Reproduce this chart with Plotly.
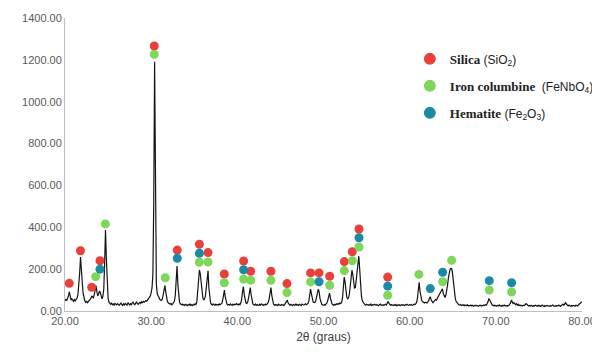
import plotly.graph_objects as go

# Diffractogram: intensity sampled every 0.1 degree from 20.0 to 80.0 (2-theta)
two_theta_start = 20.0
two_theta_step = 0.1
intensity = [
    48, 55, 50, 58, 72, 92, 68, 52, 58, 50,          # 20
    46, 54, 48, 56, 62, 78, 115, 180, 258, 215,      # 21
    140, 85, 58, 48, 42, 46, 40, 44, 50, 56,         # 22
    60, 72, 66, 62, 80, 105, 122, 92, 72, 80,        # 23
    96, 88, 66, 58, 70, 105, 230, 387, 250, 120,     # 24
    62, 42, 36, 32, 38, 30, 34, 28, 36, 31,          # 25
    29, 35, 30, 27, 33, 38, 30, 26, 34, 29,          # 26
    36, 31, 28, 40, 33, 29, 35, 30, 38, 42,          # 27
    34, 30, 37, 44, 35, 32, 38, 41, 36, 44,          # 28
    40, 46, 42, 48, 50, 47, 55, 58, 64, 72,          # 29
    88, 110, 175, 520, 1191, 420, 130, 82, 70, 62,   # 30
    56, 52, 50, 58, 75, 105, 122, 88, 58, 44,        # 31
    38, 35, 32, 36, 30, 34, 40, 46, 75, 150,         # 32
    215, 125, 60, 40, 34, 30, 33, 28, 31, 27,        # 33
    32, 29, 26, 31, 28, 33, 27, 30, 26, 32,          # 34
    29, 34, 31, 45, 90, 160, 196, 178, 140, 95,      # 35
    62, 52, 58, 72, 110, 170, 192, 110, 55, 38,      # 36
    32, 28, 34, 30, 27, 33, 29, 31, 28, 34,          # 37
    30, 33, 36, 52, 82, 100, 68, 40, 33, 29,         # 38
    31, 28, 34, 30, 27, 33, 29, 32, 30, 35,          # 39
    31, 29, 34, 30, 38, 55, 92, 117, 78, 45,         # 40
    38, 36, 42, 62, 95, 112, 78, 45, 34, 30,         # 41
    28, 33, 27, 31, 29, 26, 32, 28, 34, 30,          # 42
    27, 31, 29, 33, 30, 36, 42, 60, 95, 112,         # 43
    75, 42, 32, 28, 31, 27, 30, 26, 33, 29,          # 44
    27, 31, 28, 30, 26, 32, 38, 46, 52, 38,          # 45
    30, 27, 32, 28, 26, 31, 29, 27, 33, 28,          # 46
    30, 27, 32, 29, 26, 33, 30, 28, 31, 34,          # 47
    30, 33, 36, 48, 80, 105, 82, 52, 42, 40,         # 48
    42, 48, 62, 88, 104, 90, 58, 38, 32, 29,         # 49
    27, 31, 28, 34, 38, 52, 74, 85, 62, 40,          # 50
    33, 30, 27, 32, 29, 34, 31, 36, 33, 38,          # 51
    36, 42, 60, 110, 162, 140, 92, 66, 58, 62,       # 52
    80, 120, 168, 195, 175, 130, 108, 112, 150, 215, # 53
    250, 262, 200, 120, 72, 50, 40, 35, 31, 28,      # 54
    32, 29, 27, 31, 28, 33, 26, 30, 28, 32,          # 55
    29, 27, 31, 28, 25, 30, 33, 27, 29, 26,          # 56
    30, 28, 32, 29, 38, 46, 36, 30, 27, 31,          # 57
    28, 26, 30, 27, 31, 25, 29, 27, 30, 26,          # 58
    28, 31, 27, 29, 26, 30, 28, 32, 29, 27,          # 59
    30, 28, 31, 27, 29, 32, 30, 34, 40, 60,          # 60
    110, 137, 95, 62, 50, 45, 42, 38, 42, 40,        # 61
    38, 42, 48, 62, 68, 52, 42, 40, 45, 50,          # 62
    55, 52, 60, 68, 75, 82, 92, 100, 106, 85,        # 63
    70, 65, 75, 95, 125, 160, 185, 200, 204, 200,    # 64
    170, 125, 82, 58, 45, 38, 33, 30, 28, 31,        # 65
    27, 29, 26, 30, 25, 28, 26, 29, 24, 27,          # 66
    25, 28, 24, 27, 23, 26, 28, 24, 27, 25,          # 67
    23, 26, 28, 24, 27, 25, 29, 26, 30, 28,          # 68
    34, 45, 60, 52, 38, 30, 27, 25, 28, 24,          # 69
    26, 23, 27, 25, 29, 24, 26, 22, 27, 25,          # 70
    28, 24, 26, 23, 27, 25, 30, 38, 52, 42,          # 71
    36, 40, 33, 30, 35, 28, 32, 26, 29, 25,          # 72
    27, 24, 28, 26, 30, 35, 32, 27, 24, 26,          # 73
    23, 27, 25, 22, 26, 24, 28, 25, 23, 27,          # 74
    24, 26, 22, 25, 28, 24, 21, 26, 23, 25,          # 75
    27, 24, 22, 26, 23, 25, 28, 24, 22, 25,          # 76
    23, 26, 24, 28, 25, 22, 26, 30, 33, 28,          # 77
    35, 40, 32, 27, 24, 28, 25, 22, 26, 24,          # 78
    27, 25, 23, 28, 26, 24, 30, 33, 38, 42,          # 79
    45,                                              # 80
]

# Phase identification markers
silica_x = [20.5, 21.8, 23.1, 24.06, 30.36, 33.03, 35.6, 36.6, 38.49, 40.73,
            41.55, 43.9, 45.76, 48.5, 49.48, 50.72, 52.42, 53.34, 54.12, 57.45]
silica_y = [132, 288, 113, 240, 1266, 291, 319, 279, 177, 239,
            190, 190, 131, 182, 182, 166, 236, 283, 392, 162]

columbine_x = [23.56, 24.68, 30.36, 31.64, 35.6, 36.6, 38.49, 40.73, 41.55, 43.9, 45.76,
               48.5, 50.72, 52.42, 53.34, 54.12, 57.45, 61.08, 63.83, 64.87, 69.24, 71.83]
columbine_y = [164, 416, 1226, 159, 233, 234, 135, 153, 147, 147, 88,
               139, 123, 193, 240, 306, 75, 175, 140, 242, 100, 91]

hematite_x = [24.06, 33.03, 35.6, 40.73, 49.48, 54.12, 57.45, 62.39, 63.83, 69.24, 71.83]
hematite_y = [200, 252, 276, 197, 140, 350, 119, 107, 185, 145, 135]

x_ticks = [20, 30, 40, 50, 60, 70, 80]
y_ticks = [0, 200, 400, 600, 800, 1000, 1200, 1400]

RED = "#E8403A"
GREEN = "#7ED65A"
TEAL = "#1A8AA5"

SERIF = "font-family:Liberation Serif;font-size:13px"

fig = go.Figure()
fig.add_trace(go.Scatter(
    y=intensity, x0=two_theta_start, dx=two_theta_step, mode="lines",
    line=dict(color="#141414", width=1.2), showlegend=False, hoverinfo="skip"))

fig.add_trace(go.Scatter(
    x=silica_x, y=silica_y, mode="markers", legendgroup="a",
    marker=dict(color=RED, size=9),
    name=f'<span style="{SERIF}"><b>Silica</b></span> (SiO<sub>2</sub>)'))
fig.add_trace(go.Scatter(
    x=columbine_x, y=columbine_y, mode="markers", legendgroup="b",
    marker=dict(color=GREEN, size=9),
    name=f'<span style="{SERIF}"><b>Iron columbine</b></span>\u00a0 (FeNbO<sub>4</sub>)'))
fig.add_trace(go.Scatter(
    x=hematite_x, y=hematite_y, mode="markers", legendgroup="c",
    marker=dict(color=TEAL, size=9),
    name=f'<span style="{SERIF}"><b>Hematite</b></span> (Fe<sub>2</sub>O<sub>3</sub>)'))

axis_common = dict(showline=True, linecolor="#BFBFBF", linewidth=1, showgrid=False,
                   zeroline=False, ticks="", tickformat=".2f",
                   tickfont=dict(family="Liberation Sans", size=11, color="#595959"))

# page body has an 8px margin, so the figure is sized/offset to compensate
fig.update_layout(
    width=592, height=346,
    margin=dict(l=57, r=18, t=10, b=43, autoexpand=False),
    paper_bgcolor="white", plot_bgcolor="white",
    font=dict(family="Liberation Sans", size=12, color="#222222"),
    xaxis=dict(range=[20, 80], tickvals=x_ticks, **axis_common,
               title=dict(text="2θ (graus)", standoff=6,
                          font=dict(family="Liberation Sans", size=12, color="#404040"))),
    yaxis=dict(range=[0, 1400], tickvals=y_ticks, **axis_common),
    legend=dict(x=0.667, y=0.910, xanchor="left", yanchor="top",
                traceorder="grouped", tracegroupgap=8, itemsizing="constant",
                font=dict(family="Liberation Sans", size=12, color="#222222"),
                bgcolor="rgba(0,0,0,0)"),
)

fig.write_html("out.html")
